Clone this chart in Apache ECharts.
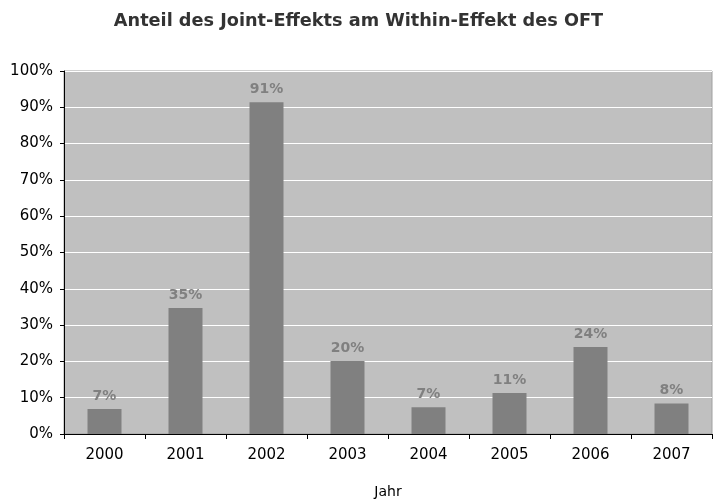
<!DOCTYPE html>
<html><head><meta charset="utf-8">
<script src="https://cdn.jsdelivr.net/npm/echarts@6/dist/echarts.min.js"></script>
<style>html,body{margin:0;padding:0;background:#fff}#c{width:717px;height:499px}</style>
</head><body><div id="c"></div>
<script>
const title = 'Anteil des Joint-Effekts am Within-Effekt des OFT';
const categories = ['2000','2001','2002','2003','2004','2005','2006','2007'];
const values = [6.9, 34.7, 91.4, 20.1, 7.4, 11.3, 24.0, 8.4];
const xAxisName = 'Jahr';
const font = 'DejaVu Sans, Verdana, sans-serif';
const chart = echarts.init(document.getElementById('c'));
chart.setOption({
  animation: false,
  title: { text: title, left: 'center', top: 7, textStyle: { fontFamily: font, fontSize: 17.7, fontWeight: 'bold', color: '#333' } },
  grid: { left: 64, right: 5, top: 71, bottom: 65, outerBoundsMode: 'none', containLabel: false, show: true, backgroundColor: '#c0c0c0', borderColor: '#a0a0a0', borderWidth: 1 },
  xAxis: {
    type: 'category', data: categories,
    name: xAxisName, nameLocation: 'middle', nameGap: 51, nameMoveOverlap: false,
    nameTextStyle: { fontFamily: font, fontSize: 14, color: '#000', verticalAlign: 'top' },
    axisLine: { lineStyle: { color: '#000' } },
    axisTick: { show: true, length: 5, lineStyle: { color: '#000' } },
    axisLabel: { fontFamily: font, fontSize: 15, color: '#000', margin: 14 }
  },
  yAxis: {
    type: 'value', min: 0, max: 100, interval: 10,
    axisLine: { show: true, lineStyle: { color: '#000' } },
    axisTick: { show: true, length: 4, lineStyle: { color: '#000' } },
    axisLabel: { fontFamily: font, fontSize: 15, color: '#000', margin: 11, formatter: '{value}%' },
    splitLine: { lineStyle: { color: '#ffffff', width: 1 } }
  },
  series: [{
    type: 'bar', data: values, barWidth: 34,
    itemStyle: { color: '#808080' },
    label: { show: true, position: 'top', distance: 6, fontFamily: font, fontSize: 14, fontWeight: 'bold', color: '#808080',
      formatter: p => Math.round(p.value) + '%' }
  }]
});
</script></body></html>
